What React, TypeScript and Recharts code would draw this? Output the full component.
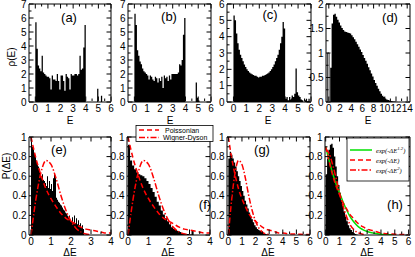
import React from 'react'
import { ComposedChart, Area, Line, XAxis, YAxis } from 'recharts'

const FONT = '"Liberation Sans", Arial, Helvetica, sans-serif'

// top row, rho(E): bins of width 0.1 starting at E = 0 (0 .. 6)
const RHO_A = [
  5.7, 3.8, 2.6, 2.4, 2.2, 3.3, 2.1, 2.0, 1.9, 1.8,
  1.8, 1.7, 0.9, 1.9, 1.6, 1.6, 1.5, 2.0, 1.5, 0.9,
  1.9, 1.9, 1.5, 0.8, 2.0, 1.8, 1.7, 0.9, 2.0, 1.9,
  1.9, 2.0, 2.0, 1.9, 2.0, 3.3, 2.3, 2.4, 3.9, 5.5,
  0, 0, 0, 0, 0, 0, 0, 0, 0, 0.95,
  0, 0, 0.45, 0, 0, 0, 0, 0, 0, 0,
]
const RHO_B = [
  6.3, 5.5, 3.7, 3.3, 2.9, 2.7, 2.4, 2.2, 2.1, 2.0,
  1.9, 1.6, 1.9, 1.8, 1.6, 1.5, 1.8, 1.7, 1.4, 1.7,
  1.5, 1.8, 1.0, 1.9, 1.7, 1.8, 1.5, 1.9, 1.6, 2.0,
  2.0, 2.0, 2.0, 2.0, 2.1, 2.7, 2.6, 3.0, 4.8, 6.0,
  0, 0, 0, 0, 0, 0, 0, 0, 1.4, 0.3,
  0.1, 0, 0, 0, 0, 0, 0, 0, 0, 0,
]
const RHO_C = [
  5.3, 5.0, 4.2, 3.6, 3.2, 2.9, 2.7, 2.5, 2.3, 2.15,
  2.0, 1.9, 1.8, 1.75, 1.7, 1.65, 1.6, 1.6, 1.55, 1.5,
  1.55, 1.55, 1.6, 1.6, 1.65, 1.7, 1.75, 1.8, 1.9, 2.0,
  2.15, 2.3, 2.5, 2.7, 2.9, 3.2, 3.6, 4.0, 4.9, 4.5,
  0.2, 0.3, 0.1, 0.3, 0.15, 0.4, 0.3, 0.5, 2.05, 0.6,
  0.4, 0.3, 0.15, 0.1, 0, 0.1, 0.2, 0.05, 0.2, 0,
]
// panel (d): bins of width 0.25 starting at E = 0.25
const RHO_D = [
  0.7, 1.6, 1.78, 1.8, 1.74, 1.68, 1.62, 1.56, 1.51, 1.47,
  1.44, 1.43, 1.42, 1.41, 1.4, 1.36, 1.32, 1.28, 1.23, 1.18,
  1.13, 1.07, 1.02, 0.96, 0.9, 0.84, 0.78, 0.71, 0.65, 0.58,
  0.52, 0.45, 0.39, 0.33, 0.27, 0.22, 0.17, 0.13, 0.1, 0.07,
  0.05, 0.04, 0.03, 0.02, 0.015, 0.01, 0.01, 0.005,
]
// isolated (open) bar of panel (d) next to E = 0
const RHO_D_ZERO_X = [-0.25, -0.25, 0.05]
const RHO_D_ZERO = [0, 1.0, 0]

// bottom row, P(dE): (e) bins of 0.05, (f)(g)(h) bins of 0.1, all from 0
const P_E = [
  0.97, 0.9, 0.88, 0.84, 0.8, 0.76, 0.72, 0.7, 0.67, 0.63,
  0.6, 0.62, 0.56, 0.55, 0.53, 0.5, 0.6, 0.48, 0.55, 0.47,
  0.52, 0.45, 0.58, 0.63, 0.6, 0.38, 0.36, 0.34, 0.33, 0.31,
  0.3, 0.28, 0.26, 0.25, 0.23, 0.22, 0.2, 0.18, 0.2, 0.15,
  0.14, 0.18, 0.13, 0.2, 0.12, 0.17, 0.11, 0.15, 0.1, 0.12,
  0.08, 0.1, 0.06,
]
const P_F = [
  0.92, 0.76, 0.71, 0.67, 0.64, 0.62, 0.61, 0.6, 0.58, 0.55,
  0.52, 0.48, 0.44, 0.39, 0.34, 0.3, 0.25, 0.21, 0.17, 0.14,
  0.11, 0.08, 0.06, 0.05, 0.04, 0.03, 0.02, 0.015, 0.01, 0.01,
  0.005, 0.04,
]
const P_G = [
  0.78, 0.85, 0.82, 0.78, 0.74, 0.7, 0.65, 0.6, 0.55, 0.5,
  0.45, 0.4, 0.35, 0.31, 0.27, 0.23, 0.19, 0.16, 0.13, 0.1,
  0.08, 0.06, 0.05, 0.04, 0.03, 0.02, 0.015, 0.01, 0.005, 0.005,
]
const P_H = [
  0.62, 0.78, 0.87, 0.92, 0.93, 0.89, 0.8, 0.7, 0.6, 0.51,
  0.43, 0.36, 0.3, 0.24, 0.19, 0.14, 0.1, 0.07, 0.05, 0.03,
  0.02, 0.01, 0.005,
]

// reference curves, read every 0.25 in dE
const CURVE_X = [0, 0.25, 0.5, 0.75, 1, 1.25, 1.5, 1.75, 2, 2.25, 2.5, 2.75, 3, 3.25, 3.5, 3.75, 4, 4.25, 4.5, 4.75, 5, 5.25, 5.5, 5.75, 6]
const POISSON = [1.0, 0.78, 0.61, 0.47, 0.37, 0.29, 0.22, 0.17, 0.14, 0.11, 0.08, 0.06, 0.05, 0.04, 0.03, 0.02, 0.02, 0.015, 0.01, 0.01, 0.01, 0.008, 0.006, 0.005, 0.004]
const WIGNER_DYSON = [0, 0.37, 0.64, 0.76, 0.72, 0.58, 0.4, 0.25, 0.14, 0.07, 0.03, 0.01, 0.004]
const FIT_STRETCHED = [0.9, 0.76, 0.63, 0.52, 0.43, 0.34, 0.26, 0.19, 0.14, 0.1, 0.07, 0.05, 0.035, 0.025, 0.018, 0.012, 0.008, 0.005, 0.003, 0.002, 0.001]
const FIT_EXP = [0.9, 0.75, 0.61, 0.5, 0.41, 0.33, 0.27, 0.21, 0.17, 0.13, 0.1, 0.08, 0.06, 0.05, 0.04, 0.03, 0.02, 0.015, 0.012, 0.01, 0.008, 0.006, 0.005, 0.004, 0.003]
const FIT_GAUSS = [0.88, 0.83, 0.72, 0.58, 0.43, 0.3, 0.19, 0.11, 0.06, 0.03, 0.015, 0.005]

// ticks
const X6_MAJOR = [0, 1, 2, 3, 4, 5, 6]
const X6_MINOR = [0.5, 1.5, 2.5, 3.5, 4.5, 5.5]
const X4_MAJOR = [0, 1, 2, 3, 4]
const X4_MINOR = [0.5, 1.5, 2.5, 3.5]
const X14_MAJOR = [0, 2, 4, 6, 8, 10, 12, 14]
const X14_MINOR = [1, 3, 5, 7, 9, 11, 13]
const Y7_MAJOR = [0, 1, 2, 3, 4, 5, 6, 7]
const Y7_MINOR = [0.5, 1.5, 2.5, 3.5, 4.5, 5.5, 6.5]
const Y6_MAJOR = [0, 1, 2, 3, 4, 5, 6]
const Y6_MINOR = [0.5, 1.5, 2.5, 3.5, 4.5, 5.5]
const Y2_MAJOR = [0, 0.5, 1, 1.5, 2]
const Y2_MINOR = [0.25, 0.75, 1.25, 1.75]
const P_MAJOR = [0, 0.2, 0.4, 0.6, 0.8, 1]
const P_MINOR = [0.1, 0.3, 0.5, 0.7, 0.9]

type Row = { x: number; [k: string]: number }

function histRows(key: string, values: number[], start: number, width: number): Row[] {
  const rows: Row[] = values.map((v, i) => ({ x: +(start + i * width).toFixed(4), [key]: v }))
  rows.push({ x: +(start + values.length * width).toFixed(4), [key]: 0 })
  return rows
}

function curveRows(key: string, xs: number[], ys: number[], xMax: number): Row[] {
  return ys.map((y, i) => ({ x: xs[i], [key]: y })).filter((r) => r.x <= xMax)
}

const RED = '#ff0000'
const GREEN = '#00e000'
const DASH = '5 3'
const DASH_DOT = '6 2 1.5 2'

function Tick(props: any) {
  const { x, y, payload, side, majors } = props
  const v = payload.value
  const major = majors.includes(v)
  const len = major ? 4.5 : 2.5
  let line = null
  let label = null
  if (side === 'bottom') {
    // the 1px-high axis box puts the tick anchor one pixel below the frame
    const yy = y - 1
    line = <line x1={x} x2={x} y1={yy} y2={yy - len} />
    if (major) label = <text x={x} y={yy + 11} textAnchor="middle">{String(v)}</text>
  } else if (side === 'top') {
    line = <line x1={x} x2={x} y1={y} y2={y + len} />
  } else if (side === 'left') {
    line = <line x1={x} x2={x + len} y1={y} y2={y} />
    if (major) label = <text x={x - 2.5} y={y + 3.6} textAnchor="end">{String(v)}</text>
  } else {
    line = <line x1={x} x2={x - len} y1={y} y2={y} />
  }
  return (
    <g stroke="none" fill="#000" fontSize={10} fontFamily={FONT}>
      <g stroke="#000" strokeWidth={1}>{line}</g>
      {label}
    </g>
  )
}

type LineSpec = { key: string; color: string; dash?: string; step?: boolean; width?: number }

type PanelProps = {
  left: number
  top: number
  width: number
  height: number
  xDomain: [number, number]
  yDomain: [number, number]
  xMajor: number[]
  xMinor: number[]
  yMajor: number[]
  yMinor: number[]
  rows: Row[]
  hist: string
  lines?: LineSpec[]
}

const ML = 34
const MR = 8
const MT = 8
const MB = 18

function Panel(p: PanelProps) {
  const axisLine = { stroke: '#000', strokeWidth: 1 }
  const xTicks = [...p.xMajor, ...p.xMinor]
  const yTicks = [...p.yMajor, ...p.yMinor]
  // every axis is 1px thick, so the plot box sits 1px inside the margins
  return (
    <div style={{ position: 'absolute', left: p.left - ML - 1, top: p.top - MT - 1 }}>
      <ComposedChart
        width={p.width + ML + MR + 2}
        height={p.height + MT + MB + 2}
        data={p.rows}
        margin={{ top: MT, right: MR, bottom: MB, left: ML }}
      >
        <XAxis xAxisId="b" type="number" dataKey="x" domain={p.xDomain} allowDataOverflow ticks={xTicks} interval={0}
          height={1} tickSize={0} tickMargin={0} tickLine={false} axisLine={axisLine}
          tick={<Tick side="bottom" majors={p.xMajor} />} />
        <XAxis xAxisId="t" orientation="top" type="number" dataKey="x" domain={p.xDomain} allowDataOverflow ticks={xTicks} interval={0}
          height={1} tickSize={0} tickMargin={0} tickLine={false} axisLine={axisLine}
          tick={<Tick side="top" majors={p.xMajor} />} />
        <YAxis yAxisId="l" type="number" domain={p.yDomain} allowDataOverflow ticks={yTicks} interval={0}
          width={1} tickSize={0} tickMargin={0} tickLine={false} axisLine={axisLine}
          tick={<Tick side="left" majors={p.yMajor} />} />
        <YAxis yAxisId="r" orientation="right" type="number" domain={p.yDomain} allowDataOverflow ticks={yTicks} interval={0}
          width={1} tickSize={0} tickMargin={0} tickLine={false} axisLine={axisLine}
          tick={<Tick side="right" majors={p.yMajor} />} />
        <Area xAxisId="b" yAxisId="l" dataKey={p.hist} type="stepAfter" fill="#000" fillOpacity={1}
          stroke="none" connectNulls dot={false} activeDot={false} isAnimationActive={false} />
        {(p.lines ?? []).map((l) => (
          <Line key={l.key} xAxisId="b" yAxisId="l" dataKey={l.key} type={l.step ? 'stepAfter' : 'monotone'}
            stroke={l.color} strokeWidth={l.width ?? 1.5} strokeDasharray={l.dash} connectNulls
            dot={false} activeDot={false} isAnimationActive={false} />
        ))}
      </ComposedChart>
    </div>
  )
}

const rowsA = histRows('h', RHO_A, 0, 0.1)
const rowsB = histRows('h', RHO_B, 0, 0.1)
const rowsC = histRows('h', RHO_C, 0, 0.1)
const rowsD = [...histRows('h', RHO_D, 0.25, 0.25), ...curveRows('z', RHO_D_ZERO_X, RHO_D_ZERO, 20)]
const rowsE = [...histRows('h', P_E, 0, 0.05), ...curveRows('poi', CURVE_X, POISSON, 4), ...curveRows('wd', CURVE_X, WIGNER_DYSON, 4)]
const rowsF = [...histRows('h', P_F, 0, 0.1), ...curveRows('poi', CURVE_X, POISSON, 4), ...curveRows('wd', CURVE_X, WIGNER_DYSON, 4)]
const rowsG = [...histRows('h', P_G, 0, 0.1), ...curveRows('poi', CURVE_X, POISSON, 6), ...curveRows('wd', CURVE_X, WIGNER_DYSON, 6)]
const rowsH = [
  ...histRows('h', P_H, 0, 0.1),
  ...curveRows('s', CURVE_X, FIT_STRETCHED, 6),
  ...curveRows('e', CURVE_X, FIT_EXP, 6),
  ...curveRows('g', CURVE_X, FIT_GAUSS, 6),
]

const refLines: LineSpec[] = [
  { key: 'poi', color: RED, dash: DASH },
  { key: 'wd', color: RED, dash: DASH_DOT },
]
const fitLines: LineSpec[] = [
  { key: 's', color: GREEN },
  { key: 'e', color: RED, dash: DASH },
  { key: 'g', color: RED, dash: DASH_DOT },
]

function Sup({ base, sup }: { base: string; sup?: string }) {
  return (
    <>
      {base}
      {sup && <tspan dy={-3} fontSize={4.8}>{sup}</tspan>}
      <tspan dy={sup ? 3 : 0}>)</tspan>
    </>
  )
}

export default function App() {
  const top = 4
  const bot = 137
  const h = 98
  return (
    <div style={{ position: 'absolute', left: 0, top: 0, width: 415, height: 257, background: '#fff', overflow: 'hidden' }}>
      <Panel left={29} top={top} width={82} height={h} xDomain={[-0.5, 6]} yDomain={[0, 7]}
        xMajor={X6_MAJOR} xMinor={X6_MINOR} yMajor={Y7_MAJOR} yMinor={Y7_MINOR} rows={rowsA} hist="h" />
      <Panel left={128} top={top} width={83} height={h} xDomain={[-0.5, 6]} yDomain={[0, 7]}
        xMajor={X6_MAJOR} xMinor={X6_MINOR} yMajor={Y7_MAJOR} yMinor={Y7_MINOR} rows={rowsB} hist="h" />
      <Panel left={227} top={top} width={84} height={h} xDomain={[-0.5, 6]} yDomain={[0, 6]}
        xMajor={X6_MAJOR} xMinor={X6_MINOR} yMajor={Y6_MAJOR} yMinor={Y6_MINOR} rows={rowsC} hist="h" />
      <Panel left={326} top={top} width={84} height={h} xDomain={[-0.5, 14.5]} yDomain={[0, 2]}
        xMajor={X14_MAJOR} xMinor={X14_MINOR} yMajor={Y2_MAJOR} yMinor={Y2_MINOR} rows={rowsD} hist="h"
        lines={[{ key: 'z', color: '#000', step: true, width: 0.8 }]} />

      <Panel left={29} top={bot} width={82} height={h} xDomain={[-0.1, 4]} yDomain={[0, 1]}
        xMajor={X4_MAJOR} xMinor={X4_MINOR} yMajor={P_MAJOR} yMinor={P_MINOR} rows={rowsE} hist="h" lines={refLines} />
      <Panel left={127} top={bot} width={83} height={h} xDomain={[-0.05, 4]} yDomain={[0, 1]}
        xMajor={X4_MAJOR} xMinor={X4_MINOR} yMajor={P_MAJOR} yMinor={P_MINOR} rows={rowsF} hist="h" lines={refLines} />
      <Panel left={227} top={bot} width={83} height={h} xDomain={[-0.1, 6]} yDomain={[0, 1]}
        xMajor={X6_MAJOR} xMinor={X6_MINOR} yMajor={P_MAJOR} yMinor={P_MINOR} rows={rowsG} hist="h" lines={refLines} />
      <Panel left={325} top={bot} width={85} height={h} xDomain={[-0.05, 6.1]} yDomain={[0, 1]}
        xMajor={X6_MAJOR} xMinor={X6_MINOR} yMajor={P_MAJOR} yMinor={P_MINOR} rows={rowsH} hist="h" lines={fitLines} />

      <svg width={415} height={257} style={{ position: 'absolute', left: 0, top: 0, pointerEvents: 'none' }}
        fontFamily={FONT}>
        <g fontSize={10} textAnchor="middle">
          <text transform="translate(15,57) rotate(-90)">ρ(E)</text>
          <text transform="translate(10,166) rotate(-90)">P(ΔE)</text>
          <text x={70} y={124}>E</text>
          <text x={170} y={124}>E</text>
          <text x={268} y={124}>E</text>
          <text x={368} y={124}>E</text>
          <text x={70} y={256}>ΔE</text>
          <text x={168} y={256}>ΔE</text>
          <text x={268} y={256}>ΔE</text>
          <text x={367} y={256}>ΔE</text>
        </g>
        <g fontSize={13} textAnchor="middle">
          <text x={69} y={22}>(a)</text>
          <text x={169} y={21}>(b)</text>
          <text x={270} y={19}>(c)</text>
          <text x={390} y={22}>(d)</text>
          <text x={59} y={154}>(e)</text>
          <text x={205} y={209}>(f)</text>
          <text x={262} y={154}>(g)</text>
          <text x={395} y={209}>(h)</text>
        </g>

        <rect x={136} y={125.5} width={77} height={16} fill="#fff" stroke="#000" strokeWidth={0.8} />
        <line x1={139} x2={159} y1={130} y2={130} stroke={RED} strokeWidth={1.5} strokeDasharray={DASH} />
        <line x1={139} x2={159} y1={137.5} y2={137.5} stroke={RED} strokeWidth={1.5} strokeDasharray={DASH_DOT} />
        <g fontSize={7}>
          <text x={165} y={132.5}>Poissonian</text>
          <text x={163} y={140}>Wigner-Dyson</text>
        </g>

        <rect x={347} y={138} width={62} height={43} fill="#fff" stroke="#000" strokeWidth={0.8} />
        <line x1={350} x2={372} y1={150} y2={150} stroke={GREEN} strokeWidth={1.5} />
        <line x1={350} x2={372} y1={160} y2={160} stroke={RED} strokeWidth={1.5} strokeDasharray={DASH} />
        <line x1={350} x2={372} y1={170} y2={170} stroke={RED} strokeWidth={1.5} strokeDasharray={DASH_DOT} />
        <g fontSize={6.5} fontFamily='"Liberation Serif", "Times New Roman", serif' fontStyle="italic">
          <text x={376} y={152.5}><Sup base="exp(-ΔE" sup="1.2" /></text>
          <text x={376} y={162.5}><Sup base="exp(-ΔE" /></text>
          <text x={376} y={172.5}><Sup base="exp(-ΔE" sup="2" /></text>
        </g>
      </svg>
    </div>
  )
}
